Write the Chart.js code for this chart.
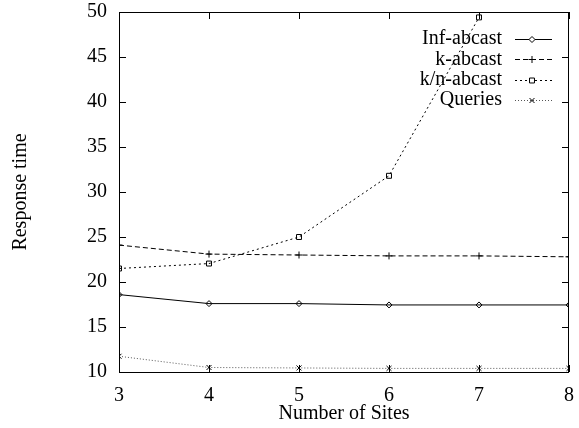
<!DOCTYPE html>
<html>
<head>
<meta charset="utf-8">
<script src="https://cdn.jsdelivr.net/npm/chart.js@4.4.1/dist/chart.umd.min.js"></script>
<style>
  html, body { margin: 0; padding: 0; background: #fff; }
  #wrap { width: 579px; height: 428px; }
</style>
</head>
<body>
<div id="wrap"><canvas id="c" width="579" height="428"></canvas></div>
<script>
const sites = [3, 4, 5, 6, 7, 8];
const infAbcast = [18.6, 17.6, 17.6, 17.45, 17.45, 17.45];
const kAbcast = [24.1, 23.1, 23.0, 22.9, 22.9, 22.8];
const knAbcast = [21.5, 22.05, 25.0, 31.8, 49.4, null];
const queries = [11.75, 10.5, 10.45, 10.4, 10.4, 10.4];
const yTicks = [10, 15, 20, 25, 30, 35, 40, 45, 50];

const FONT = "'Liberation Serif', 'DejaVu Serif', serif";
const FS = 20;

function series(label, data, style) {
  return Object.assign({
    label,
    data: sites.map((x, i) => ({ x, y: data[i] })),
    borderColor: "#000",
    pointBorderColor: "#000",
    backgroundColor: "rgba(0,0,0,0)",
    pointBackgroundColor: "rgba(0,0,0,0)",
    borderWidth: 1,
    pointBorderWidth: 1,
    tension: 0,
    spanGaps: false,
  }, style);
}

const datasets = [
  series("Inf-abcast", infAbcast, { pointStyle: "rectRot", pointRadius: 3 }),
  series("k-abcast", kAbcast, { pointStyle: "cross", pointRadius: 3.5, borderDash: [5, 3] }),
  series("k/n-abcast", knAbcast, { pointStyle: "rect", pointRadius: 3.5, borderDash: [2, 3] }),
  series("Queries", queries, {
    pointStyle: "crossRot", pointRadius: 3.5, borderDash: [1, 2],
    borderColor: "#555", pointBorderColor: "#000",
  }),
];

function noPad(s) {
  s.paddingTop = 0; s.paddingBottom = 0; s.paddingLeft = 0; s.paddingRight = 0;
}

// gnuplot style frame with inward ticks, and key in the top right corner
const frame = {
  id: "frame",
  afterDraw(chart) {
    const { ctx, chartArea: a, scales } = chart;
    ctx.save();
    ctx.strokeStyle = "#000";
    ctx.lineWidth = 1;
    ctx.setLineDash([]);
    ctx.strokeRect(a.left + 0.5, a.top + 0.5, a.right - a.left - 1, a.bottom - a.top);
    ctx.beginPath();
    yTicks.forEach((v) => {
      const y = Math.round(scales.y.getPixelForValue(v)) + 0.5;
      ctx.moveTo(a.left, y); ctx.lineTo(a.left + 7, y);
      ctx.moveTo(a.right, y); ctx.lineTo(a.right - 7, y);
    });
    sites.forEach((v) => {
      const x = Math.round(scales.x.getPixelForValue(v)) + 0.5;
      ctx.moveTo(x, a.bottom); ctx.lineTo(x, a.bottom - 7);
      ctx.moveTo(x, a.top); ctx.lineTo(x, a.top + 7);
    });
    ctx.stroke();

    ctx.font = FS + "px " + FONT;
    ctx.textAlign = "right";
    ctx.textBaseline = "middle";
    chart.data.datasets.forEach((ds, i) => {
      const y = a.top + 27 + i * 20.4;
      ctx.fillStyle = "#000";
      ctx.fillText(ds.label, a.right - 67, y);
      ctx.strokeStyle = ds.borderColor;
      ctx.setLineDash(ds.borderDash || []);
      ctx.beginPath();
      ctx.moveTo(a.right - 54, Math.round(y) + 0.5);
      ctx.lineTo(a.right - 17, Math.round(y) + 0.5);
      ctx.stroke();
      ctx.setLineDash([]);
      ctx.strokeStyle = "#000";
      ctx.fillStyle = "#fff";
      Chart.helpers.drawPoint(ctx, {
        pointStyle: ds.pointStyle, radius: ds.pointRadius, borderWidth: 1, rotation: 0,
      }, a.right - 37, Math.round(y) + 0.5);
    });
    ctx.restore();
  },
};

new Chart(document.getElementById("c"), {
  type: "line",
  data: { datasets },
  options: {
    responsive: false,
    animation: false,
    layout: { padding: { top: 12, right: 10, left: 0, bottom: 0 } },
    plugins: { legend: { display: false }, tooltip: { enabled: false } },
    scales: {
      x: {
        type: "linear",
        min: 3, max: 8,
        grid: { display: false, drawTicks: false },
        border: { display: false },
        afterFit: (s) => { s.height = 56; noPad(s); },
        afterBuildTicks: (s) => { s.ticks = sites.map((v) => ({ value: v })); },
        ticks: { color: "#000", font: { family: FONT, size: FS }, padding: 12, maxRotation: 0 },
        title: { display: true, text: "Number of Sites", color: "#000", font: { family: FONT, size: FS }, padding: { top: 0, bottom: 2 } },
      },
      y: {
        min: 10, max: 50,
        grid: { display: false, drawTicks: false },
        border: { display: false },
        afterFit: (s) => { s.width = 119; noPad(s); },
        afterBuildTicks: (s) => { s.ticks = yTicks.map((v) => ({ value: v })); },
        ticks: { color: "#000", font: { family: FONT, size: FS }, padding: 12 },
        title: { display: true, text: "Response time", color: "#000", font: { family: FONT, size: FS }, padding: { top: 9, bottom: 0 } },
      },
    },
  },
  plugins: [frame],
});
</script>
</body>
</html>
